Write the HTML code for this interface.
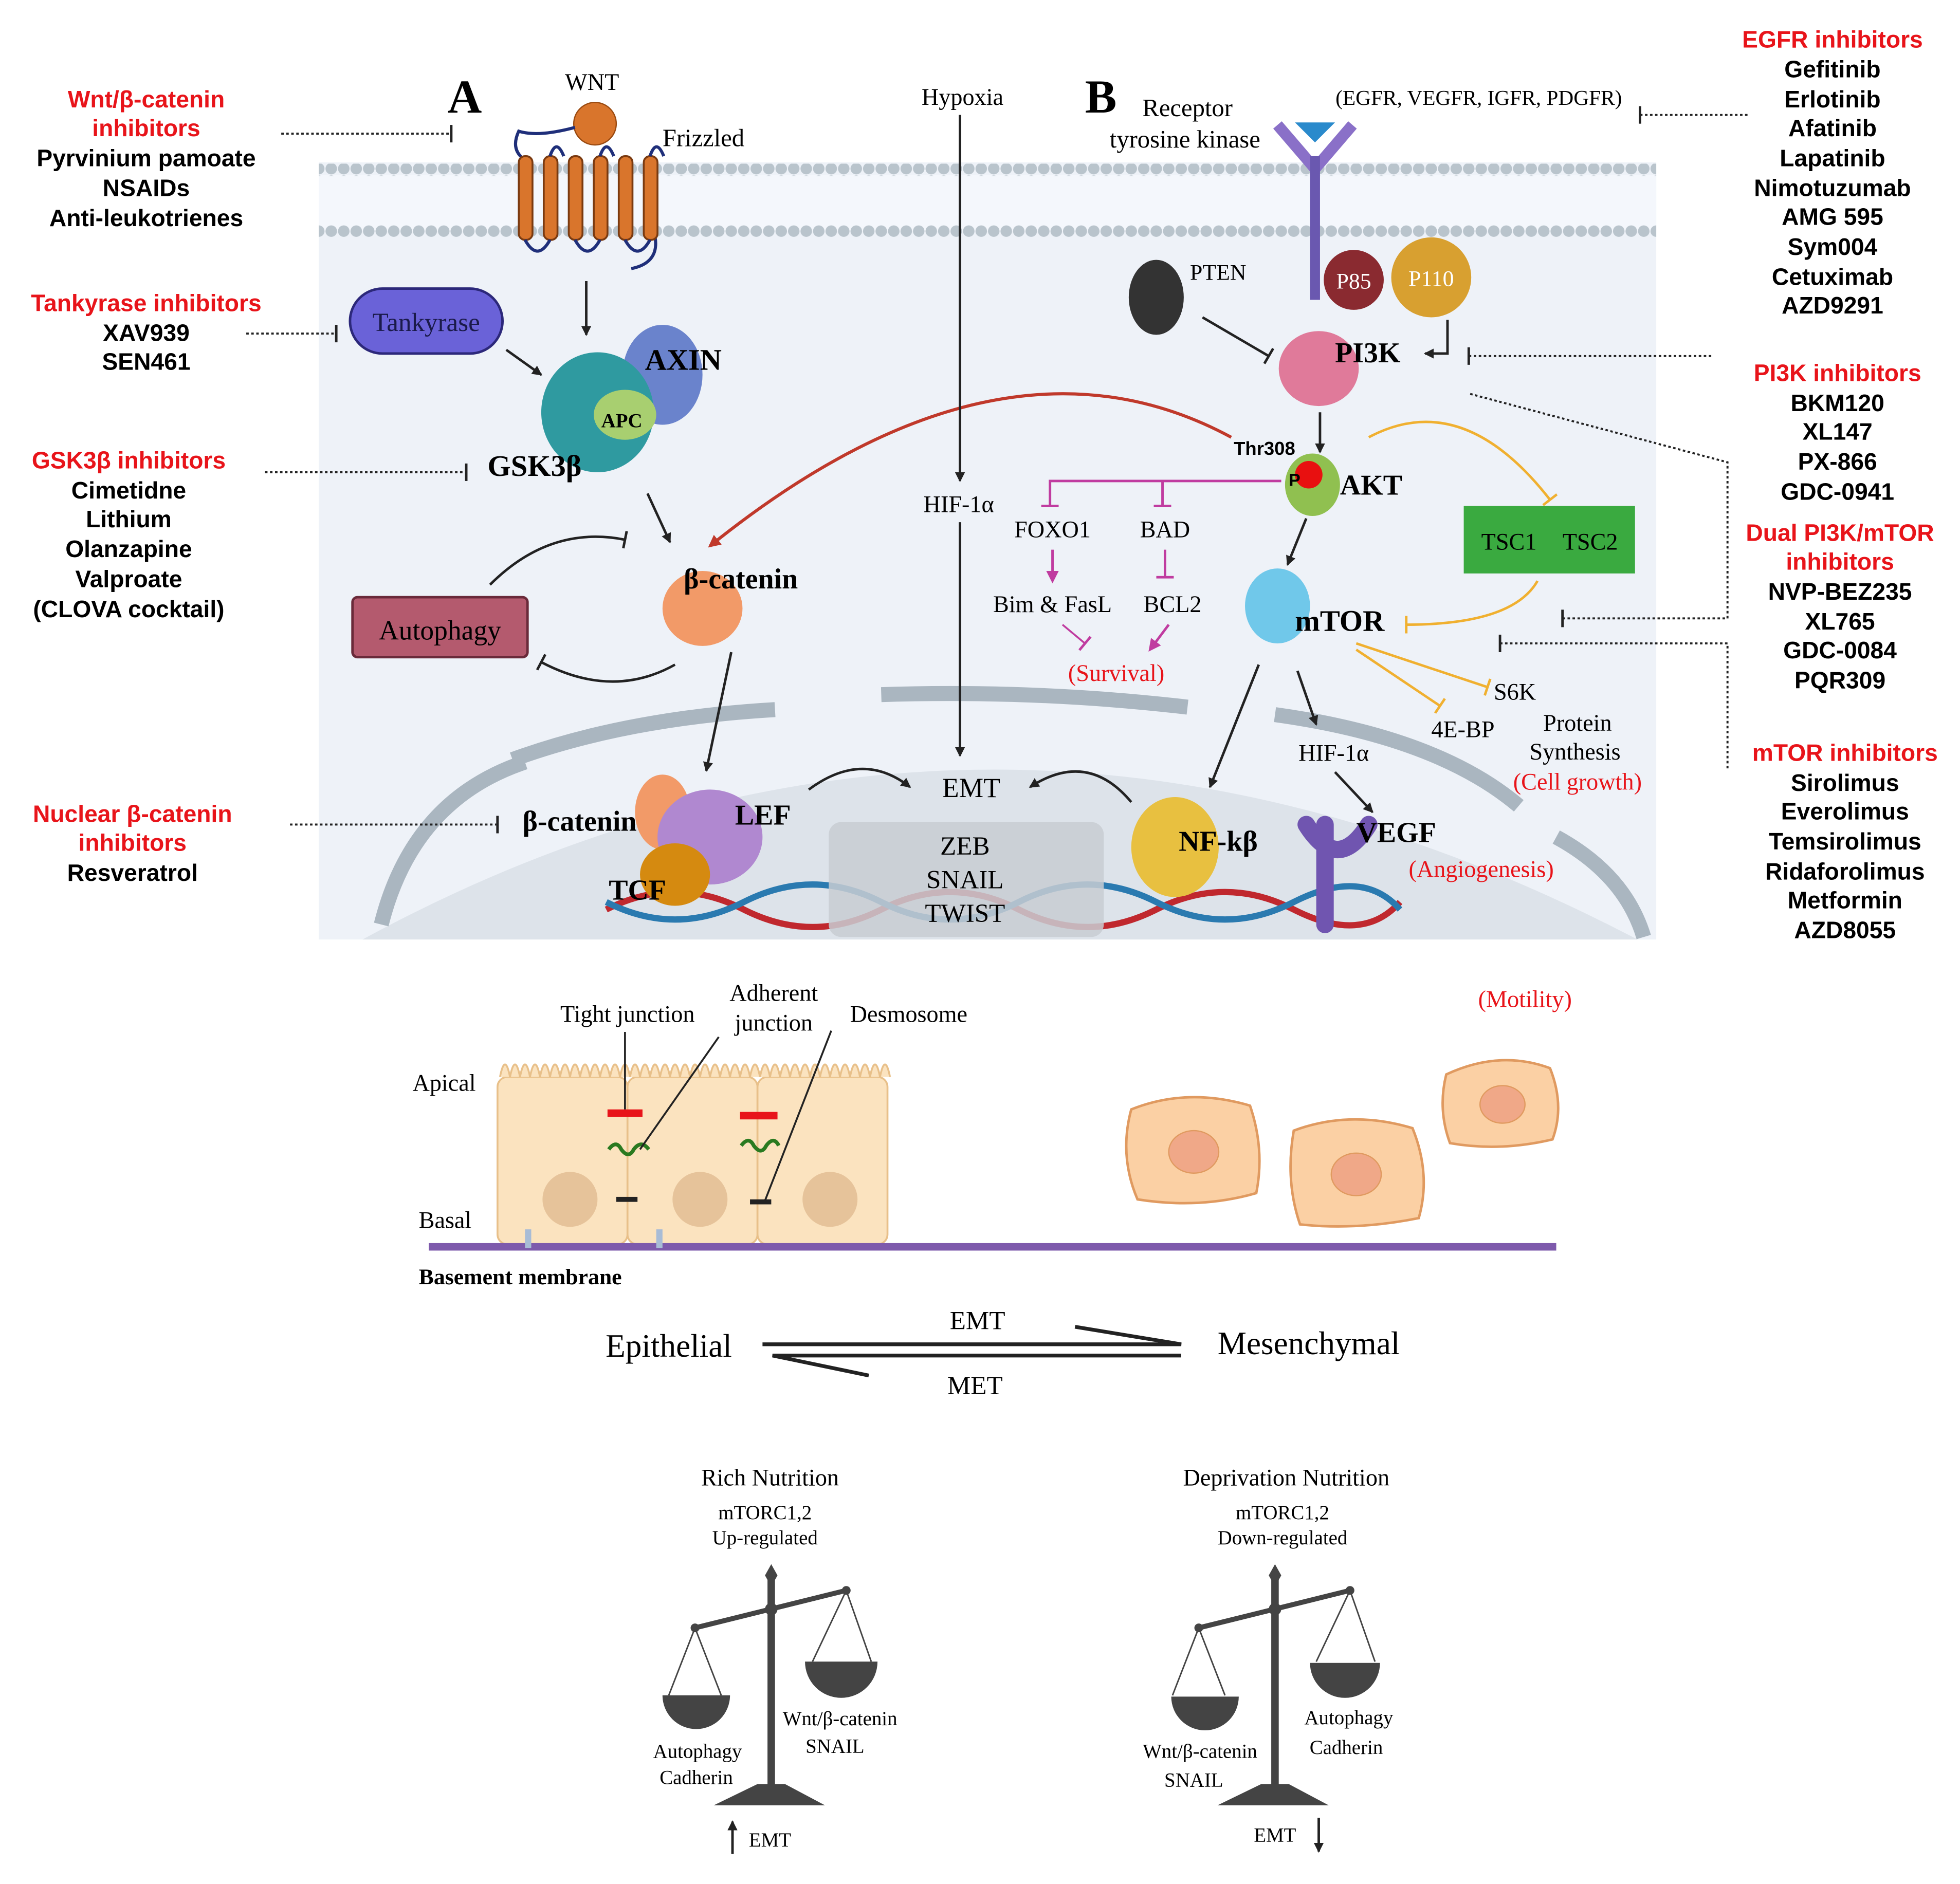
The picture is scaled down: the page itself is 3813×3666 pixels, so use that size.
<!DOCTYPE html>
<html><head><meta charset="utf-8"><style>
html,body{margin:0;padding:0;background:#fff}
svg{display:block}
.s{font-family:"Liberation Serif",serif}
.b{font-family:"Liberation Sans",sans-serif;font-weight:bold}
</style></head><body>
<svg width="3813" height="3666" viewBox="0 0 1568 1508" preserveAspectRatio="none" xmlns="http://www.w3.org/2000/svg">
<defs>
<marker id="ar" markerWidth="8" markerHeight="8" refX="7" refY="4" orient="auto" markerUnits="userSpaceOnUse"><path d="M0,0L8,4L0,8z" fill="#222"/></marker>
<marker id="arr" markerWidth="10" markerHeight="10" refX="8" refY="5" orient="auto" markerUnits="userSpaceOnUse"><path d="M0,0L10,5L0,10z" fill="#c0392b"/></marker>
<marker id="arm" markerWidth="10" markerHeight="10" refX="8" refY="5" orient="auto" markerUnits="userSpaceOnUse"><path d="M0,0L10,5L0,10z" fill="#c03ca0"/></marker>
<marker id="aro" markerWidth="10" markerHeight="10" refX="8" refY="5" orient="auto" markerUnits="userSpaceOnUse"><path d="M0,0L10,5L0,10z" fill="#f0b030"/></marker>
<marker id="tb" markerWidth="4" markerHeight="14" refX="2" refY="7" orient="auto" markerUnits="userSpaceOnUse"><path d="M2,0V14" stroke="#222" stroke-width="2"/></marker>
<marker id="tm" markerWidth="4" markerHeight="14" refX="2" refY="7" orient="auto" markerUnits="userSpaceOnUse"><path d="M2,0V14" stroke="#c03ca0" stroke-width="2"/></marker>
<marker id="to" markerWidth="4" markerHeight="14" refX="2" refY="7" orient="auto" markerUnits="userSpaceOnUse"><path d="M2,0V14" stroke="#f0b030" stroke-width="2"/></marker>
<pattern id="mem" width="10" height="10" patternUnits="userSpaceOnUse"><circle cx="5" cy="5" r="4.6" fill="#b9c4cc"/></pattern>
</defs>

<rect x="255" y="130" width="1070" height="622" fill="#eef2f8"/>
<rect x="255" y="140" width="1070" height="45" fill="#f4f7fc"/>
<rect x="255" y="131" width="1070" height="10" fill="url(#mem)"/>
<rect x="255" y="180" width="1070" height="10" fill="url(#mem)"/>
<path d="M290,752 Q790,480 1310,752 Z" fill="#dde3ea"/>
<path d="M305,740 Q330,640 420,610" stroke="#aab6c0" stroke-width="12" fill="none"/>
<path d="M410,608 Q500,575 620,568" stroke="#aab6c0" stroke-width="12" fill="none"/>
<path d="M705,556 Q830,552 950,566" stroke="#aab6c0" stroke-width="12" fill="none"/>
<path d="M1020,572 Q1150,590 1215,645" stroke="#aab6c0" stroke-width="12" fill="none"/>
<path d="M1245,670 Q1300,700 1315,750" stroke="#aab6c0" stroke-width="12" fill="none"/>
<path d="M485,728 Q540,700 595,728 T705,728 T815,728 T925,728 T1035,728 T1120,722" stroke="#c0282e" stroke-width="5" fill="none"/>
<path d="M485,722 Q540,750 595,722 T705,722 T815,722 T925,722 T1035,722 T1120,728" stroke="#2a7ab0" stroke-width="5" fill="none"/>
<rect x="663" y="658" width="220" height="92" rx="10" fill="#c8ccd2" opacity="0.85"/>

<g class="b" font-size="19" text-anchor="middle">
<text x="117" y="86" fill="#e8141a">Wnt/β-catenin</text><text x="117" y="109" fill="#e8141a">inhibitors</text>
<text x="117" y="133">Pyrvinium pamoate</text><text x="117" y="157">NSAIDs</text><text x="117" y="181">Anti-leukotrienes</text>
<text x="117" y="249" fill="#e8141a">Tankyrase inhibitors</text><text x="117" y="273">XAV939</text><text x="117" y="296">SEN461</text>
<text x="103" y="375" fill="#e8141a">GSK3β inhibitors</text><text x="103" y="399">Cimetidne</text><text x="103" y="422">Lithium</text><text x="103" y="446">Olanzapine</text><text x="103" y="470">Valproate</text><text x="103" y="494">(CLOVA cocktail)</text>
<text x="106" y="658" fill="#e8141a">Nuclear β-catenin</text><text x="106" y="681" fill="#e8141a">inhibitors</text><text x="106" y="705">Resveratrol</text>
</g>
<g stroke="#222" stroke-width="1.6" stroke-dasharray="2,2" fill="none">
<path d="M225,107H360"/><path d="M197,267H268"/><path d="M212,378H372"/><path d="M232,660H397"/>
<path d="M1312,92H1400"/><path d="M1175,285H1370"/><path d="M1250,495H1382V370L1175,315"/><path d="M1200,515H1382V615"/>
</g>
<g stroke="#222" stroke-width="2"><path d="M361,100V114"/><path d="M269,260V274"/><path d="M373,371V385"/><path d="M398,653V667"/>
<path d="M1312,85V99"/><path d="M1175,278V292"/><path d="M1250,488V502"/><path d="M1200,508V522"/></g>

<g class="b" font-size="19" text-anchor="middle">
<text x="1466" y="38" fill="#e8141a">EGFR inhibitors</text>
<text x="1466" y="62">Gefitinib</text><text x="1466" y="86">Erlotinib</text><text x="1466" y="109">Afatinib</text><text x="1466" y="133">Lapatinib</text><text x="1466" y="157">Nimotuzumab</text><text x="1466" y="180">AMG 595</text><text x="1466" y="204">Sym004</text><text x="1466" y="228">Cetuximab</text><text x="1466" y="251">AZD9291</text>
<text x="1470" y="305" fill="#e8141a">PI3K inhibitors</text><text x="1470" y="329">BKM120</text><text x="1470" y="352">XL147</text><text x="1470" y="376">PX-866</text><text x="1470" y="400">GDC-0941</text>
<text x="1472" y="433" fill="#e8141a">Dual PI3K/mTOR</text><text x="1472" y="456" fill="#e8141a">inhibitors</text><text x="1472" y="480">NVP-BEZ235</text><text x="1472" y="504">XL765</text><text x="1472" y="527">GDC-0084</text><text x="1472" y="551">PQR309</text>
<text x="1476" y="609" fill="#e8141a">mTOR inhibitors</text><text x="1476" y="633">Sirolimus</text><text x="1476" y="656">Everolimus</text><text x="1476" y="680">Temsirolimus</text><text x="1476" y="704">Ridaforolimus</text><text x="1476" y="727">Metformin</text><text x="1476" y="751">AZD8055</text>
</g>

<text class="s" x="358" y="90" font-size="38" font-weight="bold">A</text>
<text class="s" x="452" y="72" font-size="19">WNT</text>
<circle cx="476" cy="99" r="17" fill="#d9752c" stroke="#9a4a10"/>
<text class="s" x="530" y="117" font-size="20">Frizzled</text>
<path d="M460,102 Q430,110 415,105 Q408,120 420,128" stroke="#1f2f7a" stroke-width="2.5" fill="none"/>
<path d="M523,185 Q530,210 505,215" stroke="#1f2f7a" stroke-width="2.5" fill="none"/>
<g fill="#d9752c" stroke="#7a3a10" stroke-width="1.5">
<rect x="415" y="125" width="11" height="67" rx="5"/><rect x="435" y="125" width="11" height="67" rx="5"/><rect x="455" y="125" width="11" height="67" rx="5"/><rect x="475" y="125" width="11" height="67" rx="5"/><rect x="495" y="125" width="11" height="67" rx="5"/><rect x="515" y="125" width="11" height="67" rx="5"/>
</g>
<g stroke="#1f2f7a" stroke-width="2.5" fill="none"><path d="M440,125 Q445,110 451,125"/><path d="M480,125 Q485,110 491,125"/><path d="M520,125 Q525,110 531,125"/><path d="M420,192 Q430,210 440,192"/><path d="M460,192 Q470,210 480,192"/><path d="M500,192 Q510,210 520,192"/></g>
<line x1="469" y1="225" x2="469" y2="268" stroke="#222" stroke-width="2" marker-end="url(#ar)"/>
<rect x="280" y="231" width="122" height="52" rx="26" fill="#6a62d8" stroke="#2c287a" stroke-width="2"/>
<text class="s" x="341" y="265" font-size="21" text-anchor="middle" fill="#1a1a4a">Tankyrase</text>
<line x1="405" y1="280" x2="433" y2="300" stroke="#222" stroke-width="2" marker-end="url(#ar)"/>
<ellipse cx="530" cy="300" rx="32" ry="40" fill="#6a83cc"/>
<ellipse cx="478" cy="330" rx="45" ry="48" fill="#2f9aa0"/>
<ellipse cx="500" cy="332" rx="25" ry="20" fill="#a8cf70"/>
<text class="s" x="481" y="342" font-size="16" font-weight="bold">APC</text>
<text class="s" x="516" y="296" font-size="24" font-weight="bold">AXIN</text>
<text class="s" x="390" y="381" font-size="24" font-weight="bold">GSK3β</text>
<line x1="518" y1="395" x2="536" y2="434" stroke="#222" stroke-width="2" marker-end="url(#ar)"/>
<ellipse cx="562" cy="487" rx="32" ry="30" fill="#f29a68"/>
<text class="s" x="547" y="471" font-size="23" font-weight="bold">β-catenin</text>
<rect x="282" y="478" width="140" height="48" rx="4" fill="#b45a6e" stroke="#6a2a3a" stroke-width="2"/>
<text class="s" x="352" y="512" font-size="22" text-anchor="middle">Autophagy</text>
<path d="M392,468 Q440,420 500,432" stroke="#222" stroke-width="2" fill="none" marker-end="url(#tb)"/>
<path d="M540,532 Q490,560 433,530" stroke="#222" stroke-width="2" fill="none" marker-end="url(#tb)"/>
<line x1="585" y1="522" x2="565" y2="617" stroke="#222" stroke-width="2" marker-end="url(#ar)"/>
<path d="M985,350 Q800,250 568,437" stroke="#c0392b" stroke-width="2.5" fill="none" marker-end="url(#arr)"/>
<ellipse cx="530" cy="650" rx="22" ry="30" fill="#f29a68"/>
<ellipse cx="568" cy="670" rx="42" ry="38" fill="#b088d0"/>
<ellipse cx="540" cy="700" rx="28" ry="25" fill="#d58a10"/>
<text class="s" x="418" y="665" font-size="23" font-weight="bold">β-catenin</text>
<text class="s" x="588" y="660" font-size="23" font-weight="bold">LEF</text>
<text class="s" x="487" y="720" font-size="23" font-weight="bold">TCF</text>
<path d="M647,632 Q690,600 728,630" stroke="#222" stroke-width="2" fill="none" marker-end="url(#ar)"/>
<path d="M905,642 Q870,600 824,630" stroke="#222" stroke-width="2" fill="none" marker-end="url(#ar)"/>
<text class="s" x="777" y="638" font-size="22" text-anchor="middle">EMT</text>
<g class="s" font-size="21" text-anchor="middle"><text x="772" y="684">ZEB</text><text x="772" y="711">SNAIL</text><text x="772" y="738">TWIST</text></g>
<text class="s" x="770" y="84" font-size="19" text-anchor="middle">Hypoxia</text>
<line x1="768" y1="92" x2="768" y2="385" stroke="#222" stroke-width="2" marker-end="url(#ar)"/>
<text class="s" x="767" y="410" font-size="19" text-anchor="middle">HIF-1α</text>
<line x1="768" y1="418" x2="768" y2="605" stroke="#222" stroke-width="2" marker-end="url(#ar)"/>

<text class="s" x="868" y="90" font-size="38" font-weight="bold">B</text>
<text class="s" x="950" y="93" font-size="20" text-anchor="middle">Receptor</text>
<text class="s" x="948" y="118" font-size="20" text-anchor="middle">tyrosine kinase</text>
<text class="s" x="1183" y="84" font-size="17" text-anchor="middle">(EGFR, VEGFR, IGFR, PDGFR)</text>
<path d="M1022,100 L1052,135 L1082,100" stroke="#8a70c8" stroke-width="9" fill="none"/>
<path d="M1036,98 H1068 L1052,114Z" fill="#2a8acc"/>
<rect x="1048" y="125" width="8" height="115" fill="#6a58b0"/>
<circle cx="1083" cy="224" r="24" fill="#8a2a30"/><text class="s" x="1083" y="231" font-size="18" fill="#fff" text-anchor="middle">P85</text>
<circle cx="1145" cy="222" r="32" fill="#d8a030"/><text class="s" x="1145" y="229" font-size="18" fill="#fff" text-anchor="middle">P110</text>
<path d="M1158,256 V283 H1140" stroke="#222" stroke-width="2" fill="none" marker-end="url(#ar)"/>
<ellipse cx="925" cy="238" rx="22" ry="30" fill="#333"/>
<text class="s" x="952" y="224" font-size="18">PTEN</text>
<path d="M962,254 L1015,285" stroke="#222" stroke-width="2" marker-end="url(#tb)"/>
<ellipse cx="1055" cy="295" rx="32" ry="30" fill="#e07a9a"/>
<text class="s" x="1068" y="290" font-size="23" font-weight="bold">PI3K</text>
<line x1="1056" y1="330" x2="1056" y2="362" stroke="#222" stroke-width="2" marker-end="url(#ar)"/>
<text class="b" x="987" y="364" font-size="15">Thr308</text>
<ellipse cx="1050" cy="388" rx="22" ry="25" fill="#90c050"/>
<circle cx="1047" cy="380" r="11" fill="#e81010"/>
<text class="b" x="1031" y="389" font-size="14">P</text>
<text class="s" x="1072" y="396" font-size="23" font-weight="bold">AKT</text>
<path d="M1025,385 H840 V405" stroke="#c03ca0" stroke-width="2" fill="none" marker-end="url(#tm)"/>
<path d="M930,385 V405" stroke="#c03ca0" stroke-width="2" fill="none" marker-end="url(#tm)"/>
<text class="s" x="842" y="430" font-size="19" text-anchor="middle">FOXO1</text>
<text class="s" x="932" y="430" font-size="19" text-anchor="middle">BAD</text>
<line x1="842" y1="440" x2="842" y2="465" stroke="#c03ca0" stroke-width="2" marker-end="url(#arm)"/>
<line x1="932" y1="440" x2="932" y2="462" stroke="#c03ca0" stroke-width="2" marker-end="url(#tm)"/>
<text class="s" x="842" y="490" font-size="19" text-anchor="middle">Bim &amp; FasL</text>
<text class="s" x="938" y="490" font-size="19" text-anchor="middle">BCL2</text>
<line x1="850" y1="500" x2="868" y2="515" stroke="#c03ca0" stroke-width="1.5" marker-end="url(#tm)"/>
<line x1="935" y1="500" x2="920" y2="520" stroke="#c03ca0" stroke-width="2" marker-end="url(#arm)"/>
<text class="s" x="893" y="545" font-size="19" fill="#e8141a" text-anchor="middle">(Survival)</text>
<line x1="1045" y1="415" x2="1030" y2="452" stroke="#222" stroke-width="2" marker-end="url(#ar)"/>
<ellipse cx="1022" cy="485" rx="26" ry="30" fill="#70c8ea"/>
<text class="s" x="1036" y="505" font-size="24" font-weight="bold">mTOR</text>
<rect x="1171" y="405" width="137" height="54" fill="#3aaa40"/>
<text class="s" x="1185" y="440" font-size="19">TSC1</text><text class="s" x="1250" y="440" font-size="19">TSC2</text>
<path d="M1095,350 Q1170,310 1240,400" stroke="#f0b030" stroke-width="2" fill="none" marker-end="url(#to)"/>
<path d="M1230,465 Q1210,500 1125,500" stroke="#f0b030" stroke-width="2" fill="none" marker-end="url(#to)"/>
<line x1="1085" y1="515" x2="1190" y2="550" stroke="#f0b030" stroke-width="2" marker-end="url(#to)"/>
<line x1="1085" y1="520" x2="1152" y2="565" stroke="#f0b030" stroke-width="2" marker-end="url(#to)"/>
<text class="s" x="1195" y="560" font-size="19">S6K</text>
<text class="s" x="1145" y="590" font-size="19">4E-BP</text>
<g class="s" font-size="19" text-anchor="middle"><text x="1262" y="585">Protein</text><text x="1260" y="608">Synthesis</text></g>
<text class="s" x="1262" y="632" font-size="19" fill="#e8141a" text-anchor="middle">(Cell growth)</text>
<line x1="1038" y1="537" x2="1053" y2="580" stroke="#222" stroke-width="2" marker-end="url(#ar)"/>
<text class="s" x="1067" y="609" font-size="19" text-anchor="middle">HIF-1α</text>
<line x1="1068" y1="618" x2="1098" y2="650" stroke="#222" stroke-width="2" marker-end="url(#ar)"/>
<line x1="1007" y1="532" x2="968" y2="630" stroke="#222" stroke-width="2" marker-end="url(#ar)"/>
<ellipse cx="940" cy="678" rx="35" ry="40" fill="#e8c040"/>
<text class="s" x="943" y="681" font-size="23" font-weight="bold">NF-kβ</text>
<path d="M1060,660 L1060,740 M1045,660 Q1070,700 1095,660" stroke="#7055b0" stroke-width="14" fill="none" stroke-linecap="round"/>
<text class="s" x="1085" y="674" font-size="23" font-weight="bold">VEGF</text>
<text class="s" x="1185" y="702" font-size="19" fill="#e8141a" text-anchor="middle">(Angiogenesis)</text>

<text class="s" x="1220" y="806" font-size="19" fill="#e8141a" text-anchor="middle">(Motility)</text>
<g class="s" font-size="19" text-anchor="middle"><text x="502" y="818">Tight junction</text><text x="619" y="801">Adherent</text><text x="619" y="825">junction</text><text x="727" y="818">Desmosome</text></g>
<text class="s" x="330" y="873" font-size="19">Apical</text>
<text class="s" x="335" y="983" font-size="19">Basal</text>
<text x="335" y="1028" font-size="18" font-weight="bold" style="font-family:'Liberation Serif',serif">Basement membrane</text>
<g fill="#fbe3bf" stroke="#e8c08a" stroke-width="1.5">
<rect x="398" y="862" width="104" height="134" rx="8"/><rect x="502" y="862" width="104" height="134" rx="8"/><rect x="606" y="862" width="104" height="134" rx="8"/>
</g>
<path d="M400,862 q4,-20 8,0 q4,-20 8,0 q4,-20 8,0 q4,-20 8,0 q4,-20 8,0 q4,-20 8,0 q4,-20 8,0 q4,-20 8,0 q4,-20 8,0 q4,-20 8,0 q4,-20 8,0 q4,-20 8,0 q4,-20 8,0 q4,-20 8,0 q4,-20 8,0 q4,-20 8,0 q4,-20 8,0 q4,-20 8,0 q4,-20 8,0 q4,-20 8,0 q4,-20 8,0 q4,-20 8,0 q4,-20 8,0 q4,-20 8,0 q4,-20 8,0 q4,-20 8,0 q4,-20 8,0 q4,-20 8,0 q4,-20 8,0 q4,-20 8,0 q4,-20 8,0 q4,-20 8,0 q4,-20 8,0 q4,-20 8,0 q4,-20 8,0 q4,-20 8,0 q4,-20 8,0 q4,-20 8,0 q4,-20 8,0" fill="#fbe3bf" stroke="#e8c08a" stroke-width="1.5"/>
<g fill="#e6c39a"><circle cx="456" cy="960" r="22"/><circle cx="560" cy="960" r="22"/><circle cx="664" cy="960" r="22"/></g>
<g fill="#e8141a"><rect x="486" y="888" width="28" height="6"/><rect x="592" y="890" width="30" height="6"/></g>
<path d="M487,920 q6,-8 10,0 q6,8 10,0 q6,-8 12,0 M593,917 q6,-8 10,0 q6,8 10,0 q6,-8 10,0" stroke="#2a7a20" stroke-width="3" fill="none"/>
<g fill="#222"><rect x="493" y="958" width="17" height="4"/><rect x="600" y="960" width="17" height="4"/></g>
<g stroke="#222" stroke-width="1.5"><line x1="500" y1="826" x2="500" y2="888"/><line x1="575" y1="830" x2="512" y2="920"/><line x1="665" y1="825" x2="612" y2="961"/></g>
<rect x="343" y="995" width="902" height="6" fill="#7e5aac"/>
<rect x="420" y="984" width="5" height="15" fill="#a8bcd6"/><rect x="525" y="984" width="5" height="15" fill="#a8bcd6"/>
<g fill="#fbd0a4" stroke="#e09a60" stroke-width="2">
<path d="M905,888 Q950,870 1000,885 Q1012,920 1005,955 Q960,968 910,960 Q895,925 905,888Z"/>
<path d="M1035,905 Q1080,888 1130,903 Q1145,940 1135,975 Q1085,985 1040,980 Q1028,945 1035,905Z"/>
<path d="M1157,860 Q1200,840 1240,855 Q1252,885 1242,912 Q1200,922 1160,915 Q1150,888 1157,860Z"/>
</g>
<g fill="#f0a888" stroke="#e09a60"><ellipse cx="955" cy="922" rx="20" ry="17"/><ellipse cx="1085" cy="940" rx="20" ry="17"/><ellipse cx="1202" cy="884" rx="18" ry="15"/></g>

<text class="s" x="535" y="1086" font-size="26" text-anchor="middle">Epithelial</text>
<text class="s" x="1047" y="1084" font-size="26" text-anchor="middle">Mesenchymal</text>
<text class="s" x="782" y="1064" font-size="21" text-anchor="middle">EMT</text>
<text class="s" x="780" y="1116" font-size="21" text-anchor="middle">MET</text>
<g stroke="#222" stroke-width="3" fill="none"><path d="M610,1076H945L860,1062"/><path d="M945,1085H618L695,1101"/></g>

<g class="s" font-size="19" text-anchor="middle"><text x="616" y="1189">Rich Nutrition</text><text x="1029" y="1189">Deprivation Nutrition</text></g>
<g class="s" font-size="16" text-anchor="middle"><text x="612" y="1216">mTORC1,2</text><text x="612" y="1236">Up-regulated</text><text x="1026" y="1216">mTORC1,2</text><text x="1026" y="1236">Down-regulated</text></g>
<g id="sc">
<rect x="614" y="1258" width="6" height="172" fill="#444"/>
<path d="M617,1252 l5,9 -5,9 -5,-9z" fill="#444"/>
<path d="M571,1445 L606,1428 H628 L660,1445Z" fill="#444"/>
<line x1="556" y1="1303" x2="677" y2="1273" stroke="#444" stroke-width="4"/>
<circle cx="617" cy="1288" r="5" fill="#444"/><circle cx="556" cy="1303" r="3.5" fill="#444"/><circle cx="677" cy="1273" r="3.5" fill="#444"/>
<g stroke="#444" stroke-width="1.2"><line x1="556" y1="1303" x2="535" y2="1357"/><line x1="556" y1="1303" x2="577" y2="1357"/><line x1="677" y1="1273" x2="650" y2="1330"/><line x1="677" y1="1273" x2="697" y2="1330"/></g>
</g>
<path d="M530,1357 H584 A27,27 0 0 1 530,1357Z" fill="#444"/>
<path d="M644,1330 H702 A29,29 0 0 1 644,1330Z" fill="#444"/>
<use href="#sc" transform="translate(403,0)"/>
<path d="M937,1358 H991 A27,27 0 0 1 937,1358Z" fill="#444"/>
<path d="M1048,1331 H1104 A28,28 0 0 1 1048,1331Z" fill="#444"/>
<g class="s" font-size="16" text-anchor="middle">
<text x="558" y="1407">Autophagy</text><text x="557" y="1428">Cadherin</text>
<text x="672" y="1381">Wnt/β-catenin</text><text x="668" y="1403">SNAIL</text>
<text x="960" y="1407">Wnt/β-catenin</text><text x="955" y="1430">SNAIL</text>
<text x="1079" y="1380">Autophagy</text><text x="1077" y="1404">Cadherin</text>
<text x="616" y="1478">EMT</text><text x="1020" y="1474">EMT</text>
</g>
<line x1="586" y1="1484" x2="586" y2="1458" stroke="#222" stroke-width="2" marker-end="url(#ar)"/>
<line x1="1055" y1="1455" x2="1055" y2="1482" stroke="#222" stroke-width="2" marker-end="url(#ar)"/>
</svg>
</body></html>
